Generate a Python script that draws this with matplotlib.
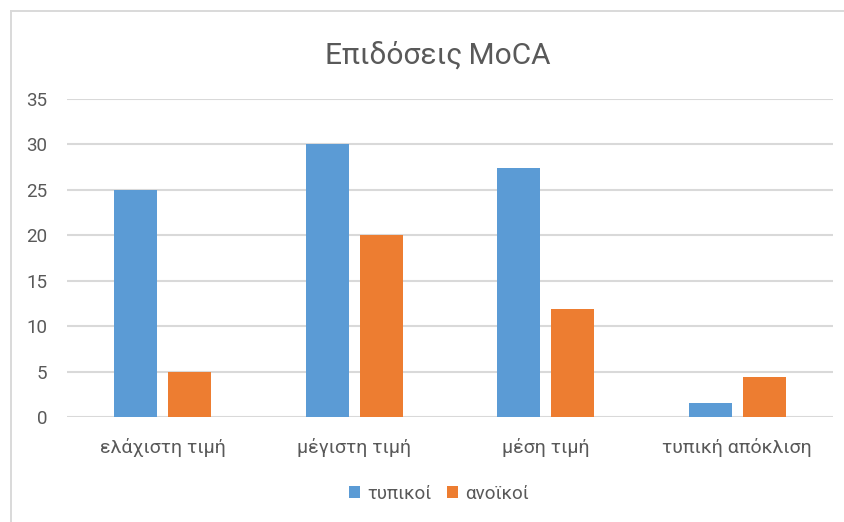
import numpy as np
import matplotlib.pyplot as plt
from matplotlib.patches import Patch
from matplotlib.lines import Line2D

categories = ["ελάχιστη τιμή", "μέγιστη τιμή", "μέση τιμή", "τυπική απόκλιση"]
series_names = ["τυπικοί", "ανοϊκοί"]
typical = [25, 30, 27.4, 1.5]
dementia = [5, 20, 11.9, 4.4]

BLUE = "#5B9BD5"
ORANGE = "#ED7D31"
TEXT = "#595959"
GRID = "#D9D9D9"

W, H = 844, 522


def main() -> None:
    plt.rcParams["font.family"] = ["Roboto", "DejaVu Sans"]
    fig = plt.figure(figsize=(W / 100, H / 100), dpi=100)
    ax = fig.add_axes([67 / W, 105 / H, 766 / W, 318 / H])

    x = np.arange(len(categories))
    bar_w = 0.225
    offset = 0.141
    ax.bar(x - offset, typical, width=bar_w, color=BLUE, zorder=3)
    ax.bar(x + offset, dementia, width=bar_w, color=ORANGE, zorder=3)

    ax.set_xlim(-0.5, len(categories) - 0.5)
    ax.set_ylim(0, 35)
    ax.set_yticks(np.arange(0, 36, 5))
    ax.set_xticks(x, categories)
    ax.grid(axis="y", color=GRID, linewidth=1.5, zorder=0)
    ax.set_axisbelow(True)
    for spine in ax.spines.values():
        spine.set_visible(False)
    ax.tick_params(axis="y", length=0, pad=14, labelsize=13.5, labelcolor=TEXT)
    ax.tick_params(axis="x", length=0, pad=15, labelsize=14, labelcolor=TEXT)

    fig.text(437.5 / W, 1 - 55 / H, "Επιδόσεις\u2009MoCA", ha="center", va="center",
             fontsize=21.5, color=TEXT)

    handles = [Patch(facecolor=BLUE), Patch(facecolor=ORANGE)]
    fig.legend(handles, series_names, loc="center", bbox_to_anchor=(439 / W, 1 - 494 / H),
               ncol=2, frameon=False, fontsize=13.5, labelcolor=TEXT,
               handlelength=0.6, handleheight=0.6, handletextpad=0.4, columnspacing=0.8)

    # chart area border (only the left and top edges fall inside the canvas)
    fig.add_artist(Line2D([10.5 / W, 10.5 / W], [0, 1 - 10.5 / H], transform=fig.transFigure,
                          color=GRID, linewidth=1.4))
    fig.add_artist(Line2D([10.5 / W, 1], [1 - 10.5 / H, 1 - 10.5 / H], transform=fig.transFigure,
                          color=GRID, linewidth=1.4))

    fig.savefig("out.png", dpi=100)
    plt.close(fig)


if __name__ == "__main__":
    main()
